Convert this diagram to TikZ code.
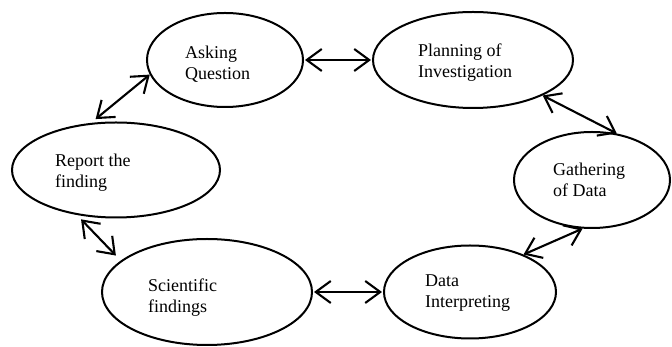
\documentclass[tikz,border=0pt]{standalone}
\usepackage{fontspec}
\setmainfont{Liberation Serif}
\usetikzlibrary{arrows.meta,positioning,shapes.geometric}
\definecolor{cycink}{HTML}{000000}
\tikzset{
  oval/.style={ellipse, draw=cycink, line width=2pt, inner sep=0pt},
  lbl/.style={font=\fontsize{18}{21}\selectfont, align=left, anchor=base west, inner sep=0pt, text=cycink},
  link/.style={{Straight Barb[length=15pt,width=22pt]}-{Straight Barb[length=15pt,width=22pt]}, line width=2.1pt, color=cycink},
}
\begin{document}
\begin{tikzpicture}[x=1pt,y=1pt]
  \useasboundingbox (0,0) rectangle (672,347);
  % six stages of the inquiry cycle
  \node[oval, minimum width=156pt, minimum height=94pt] (ask) at (225,287) {};
  \node[oval, minimum width=200pt, minimum height=96pt] (plan) at (473,287) {};
  \node[oval, minimum width=156pt, minimum height=96pt] (gather) at (592,167) {};
  \node[oval, minimum width=172pt, minimum height=93pt] (interp) at (470,55) {};
  \node[oval, minimum width=210pt, minimum height=106pt] (sci) at (207,55) {};
  \node[oval, minimum width=208pt, minimum height=95pt] (report) at (116,177) {};
  % texts, left aligned (base = last line)
  \node[lbl] (askt) at (185,267) {Asking\\Question};
  \node[lbl] (plant) at (418,269) {Planning of\\Investigation};
  \node[lbl] (gathert) at (553,150) {Gathering\\of Data};
  \node[lbl] (interpt) at (425,39) {Data\\Interpreting};
  \node[lbl] (scit) at (148,34) {Scientific\\findings};
  \node[lbl] (reportt) at (55,159) {Report the\\finding};
  % two-way links
  \draw[link, shorten <=1pt, shorten >=1pt] (ask.east) -- (plan.west);
  \draw[link] (plan.-27) -- (gather.62);
  \draw[link] (gather.-101) -- (interp.35);
  \draw[link, shorten <=1pt, shorten >=1pt] (interp.west) -- (sci.east);
  \draw[link, shorten <=7pt, shorten >=6pt] (sci.160) -- (report.-131);
  \draw[link, shorten >=6pt] (ask.191) -- (report.118);
\end{tikzpicture}
\end{document}
